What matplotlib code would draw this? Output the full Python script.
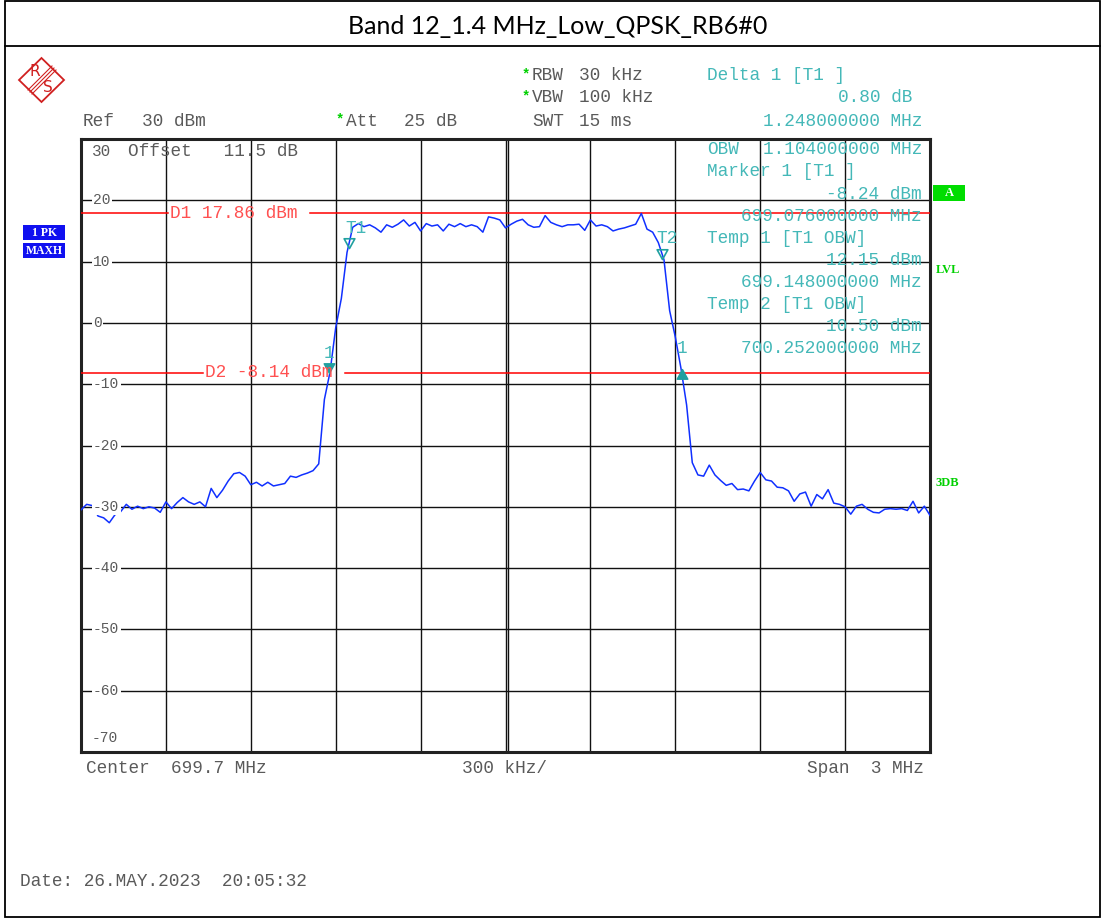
import matplotlib
matplotlib.use("Agg")
import matplotlib.pyplot as plt
import numpy as np
from matplotlib.path import Path
from matplotlib.patches import Polygon, Rectangle

W, H = 1105, 921

title = "Band 12_1.4 MHz_Low_QPSK_RB6#0"
center_mhz = 699.7
span_mhz = 3.0
ref_db = 30
bottom_db = -70
y_labels = [20, 10, 0, -10, -20, -30, -40, -50, -60]

# max-hold trace, every 20 kHz from 698.2 to 701.2 MHz
trace_db = [
    -30.5, -29.6, -29.8, -31.5, -31.8, -32.6, -31.3, -30.8, -29.6, -30.4,
    -29.9, -30.3, -30.0, -30.2, -30.9, -29.2, -30.3, -29.3, -28.5, -29.2,
    -29.6, -29.2, -30.0, -27.0, -28.5, -27.3, -25.8, -24.6, -24.4, -25.0,
    -26.4, -26.0, -26.6, -26.0, -26.6, -26.4, -26.2, -25.0, -25.2, -24.8,
    -24.5, -24.1, -23.0, -12.5, -8.0, -0.8, 4.0, 11.5, 15.6, 16.2,
    15.7, 16.0, 15.5, 14.8, 16.0, 15.6, 16.1, 16.8, 15.8, 16.4,
    15.0, 16.2, 15.8, 16.0, 15.0, 16.1, 15.7, 16.2, 15.7, 16.0,
    15.7, 14.8, 17.3, 17.1, 16.8, 15.5, 16.1, 16.6, 16.9, 16.0,
    15.6, 15.7, 17.5, 16.4, 16.0, 15.7, 16.0, 16.0, 16.1, 15.1,
    16.8, 15.8, 16.0, 15.7, 15.0, 15.3, 15.5, 15.8, 16.1, 17.86,
    15.3, 14.8, 13.1, 10.3, 2.0, -2.3, -7.4, -13.4, -22.8, -24.8,
    -25.0, -23.2, -24.8, -25.7, -26.5, -26.2, -27.2, -27.1, -27.4, -25.8,
    -24.4, -25.6, -25.8, -26.8, -26.9, -27.4, -29.1, -27.9, -27.6, -29.9,
    -28.0, -28.7, -27.2, -29.4, -29.6, -30.0, -31.2, -29.9, -29.6, -30.4,
    -30.9, -31.0, -30.4, -30.3, -30.4, -30.3, -30.6, -29.1, -31.0, -29.9,
    -31.4,
]

d1_db = 17.86
d2_db = -8.14
m1_mhz, m1_db = 699.076, -8.24
delta_mhz, delta_db = 1.248, 0.80
t1_mhz, t1_db = 699.148, 12.15
t2_mhz, t2_db = 700.252, 10.50
obw_mhz = 1.104

GRAY = "#5a5a5a"
TEAL = "#44b8b8"
RED = "#ff5050"
GREEN = "#00d000"
MONO = "Liberation Mono"
FS = 12.8

f0 = center_mhz - span_mhz / 2
f1 = center_mhz + span_mhz / 2
freqs = np.linspace(f0, f1, len(trace_db))

fig = plt.figure(figsize=(W / 100, H / 100), dpi=100)
ax = fig.add_axes([81 / W, 1 - 752 / H, 849 / W, 613 / H])
ax.set_xlim(f0, f1)
ax.set_ylim(bottom_db, ref_db)
ax.set_xticks(np.linspace(f0, f1, 11))
ax.set_yticks(np.arange(bottom_db, ref_db + 1, 10))
ax.tick_params(length=0, labelbottom=False, labelleft=False)
ax.grid(True, color="#111111", lw=1.0)
ax.axvline(center_mhz + 0.008, color="#111111", lw=1.0)
for s in ax.spines.values():
    s.set_linewidth(2.2)
    s.set_color("#222222")

ax.plot(freqs, trace_db, color="#1030ff", lw=1.1, zorder=4)

# display lines
ax.axhline(d1_db, xmax=0.1025, color="red", lw=1.1, zorder=3)
ax.axhline(d1_db, xmin=0.2697, color="red", lw=1.1, zorder=3)
ax.axhline(d2_db, xmax=0.1437, color="red", lw=1.1, zorder=3)
ax.axhline(d2_db, xmin=0.311, color="red", lw=1.1, zorder=3)

down = Path([(-0.55, 1.0), (0.55, 1.0), (0.0, 0.0), (-0.55, 1.0)],
            [Path.MOVETO, Path.LINETO, Path.LINETO, Path.CLOSEPOLY])
up = Path([(-0.55, -1.0), (0.55, -1.0), (0.0, 0.0), (-0.55, -1.0)],
          [Path.MOVETO, Path.LINETO, Path.LINETO, Path.CLOSEPOLY])
ax.plot([t1_mhz, t2_mhz], [t1_db, t2_db], ls="none", marker=down, ms=14,
        mfc="none", mec="#20a0a0", mew=1.2, zorder=5)
ax.plot([m1_mhz], [m1_db], ls="none", marker=down, ms=14,
        color="#20a0a0", zorder=5)
ax.plot([m1_mhz + delta_mhz], [m1_db + delta_db], ls="none", marker=up,
        ms=14, color="#20a0a0", zorder=5)

mk = dict(textcoords="offset pixels", color=TEAL, family=MONO,
          fontsize=FS, va="center", zorder=6)
ax.annotate("T1", (t1_mhz, t1_db), xytext=(-4, 20), ha="left", **mk)
ax.annotate("T2", (t2_mhz, t2_db), xytext=(-5, 20), ha="left", **mk)
ax.annotate("1", (m1_mhz, m1_db), xytext=(0, 20), ha="center", **mk)
ax.annotate("1", (m1_mhz + delta_mhz, m1_db + delta_db), xytext=(0, 20),
            ha="center", **mk)

# overlay in pixel coordinates for all screen text
ov = fig.add_axes([0, 0, 1, 1], zorder=10)
ov.set_xlim(0, W)
ov.set_ylim(H, 0)
ov.axis("off")
ov.patch.set_visible(False)


def txt(x, y, s, color=GRAY, ha="left", size=FS, **kw):
    ov.text(x, y, s, color=color, ha=ha, va="center", family=MONO,
            fontsize=size, **kw)


# frame and title
ov.add_patch(Rectangle((5, 1), 1095, 916, fill=False, ec="black", lw=1.3))
ov.plot([5, 1100], [46, 46], color="black", lw=1.3)
ov.text(558, 27, title, ha="center", va="center", fontsize=18,
        family="Lato", color="black")

# R&S logo
ov.add_patch(Polygon([(41.5, 58), (64, 80), (41.5, 102), (19, 80)],
                     closed=True, fill=False, ec="#d02020", lw=1.3))
for d in (-2, 0, 2):
    ov.plot([54 + d, 30 + d], [68 + d, 92 + d], color="#d02020", lw=0.8)
ov.text(35, 72, "R", color="#d02020", fontsize=11, ha="center", va="center",
        family="DejaVu Sans")
ov.text(48, 87, "S", color="#d02020", fontsize=11, ha="center", va="center",
        family="DejaVu Sans")

# header
txt(83, 121, "Ref")
txt(142, 121, "%d dBm" % ref_db)
txt(336, 119, "*", color=GREEN, size=10, weight="bold")
txt(346, 121, "Att")
txt(404, 121, "25 dB")
txt(522, 74, "*", color=GREEN, size=10, weight="bold")
txt(532, 76, "RBW")
txt(579, 76, "30 kHz")
txt(522, 96, "*", color=GREEN, size=10, weight="bold")
txt(532, 98, "VBW")
txt(579, 98, "100 kHz")
txt(532, 121, "SWT")
txt(579, 121, "15 ms")

# marker info
txt(707, 76, "Delta 1 [T1 ]", color=TEAL)
txt(912, 98, "%.2f dB" % delta_db, color=TEAL, ha="right")
txt(922, 121, "%.9f MHz" % delta_mhz, color=TEAL, ha="right")
txt(707, 150, "OBW", color=TEAL)
txt(922, 150, "%.9f MHz" % obw_mhz, color=TEAL, ha="right")
txt(707, 172, "Marker 1 [T1 ]", color=TEAL)
txt(922, 194, "%.2f dBm" % m1_db, color=TEAL, ha="right")
txt(922, 216, "%.9f MHz" % m1_mhz, color=TEAL, ha="right")
txt(707, 238, "Temp 1 [T1 OBW]", color=TEAL)
txt(922, 260, "%.2f dBm" % t1_db, color=TEAL, ha="right")
txt(922, 282, "%.9f MHz" % t1_mhz, color=TEAL, ha="right")
txt(707, 304, "Temp 2 [T1 OBW]", color=TEAL)
txt(922, 326, "%.2f dBm" % t2_db, color=TEAL, ha="right")
txt(922, 348, "%.9f MHz" % t2_mhz, color=TEAL, ha="right")

# display line labels
txt(170, 213, "D1 %.2f dBm" % d1_db, color=RED)
txt(205, 372, "D2 %.2f dBm" % d2_db, color=RED)

# level labels
txt(92, 152, "%d" % ref_db, size=11.5)
txt(128, 152, "Offset   11.5 dB")
for v in y_labels:
    ypx = 139 + (ref_db - v) * 61.3 / 10
    txt(93, ypx, "%d" % v, size=10.5,
        bbox=dict(fc="white", ec="none", pad=1.0))
txt(92, 738, "%d" % bottom_db, size=10.5)

# side boxes
for y0, lab in ((225, "1 PK"), (243, "MAXH")):
    ov.add_patch(Rectangle((23, y0), 42, 15, fc="#1010f0", ec="none"))
    ov.text(44, y0 + 7.5, lab, color="white", ha="center", va="center",
            fontsize=8.5, weight="bold", family="Liberation Serif")
ov.add_patch(Rectangle((933, 185), 32, 16, fc="#00dd00", ec="none"))
ov.text(949, 193, "A", color="white", ha="center", va="center",
        fontsize=9, weight="bold", family="Liberation Serif")
ov.text(936, 270, "LVL", color=GREEN, va="center", fontsize=9,
        weight="bold", family="Liberation Serif")
ov.text(936, 483, "3DB", color=GREEN, va="center", fontsize=9,
        weight="bold", family="Liberation Serif")

# footer
txt(86, 768, "Center  %.1f MHz" % center_mhz)
txt(462, 768, "%d kHz/" % round(span_mhz * 100))
txt(924, 768, "Span  %d MHz" % span_mhz, ha="right")
txt(20, 881, "Date: 26.MAY.2023  20:05:32")

fig.savefig("out.png", dpi=100)
